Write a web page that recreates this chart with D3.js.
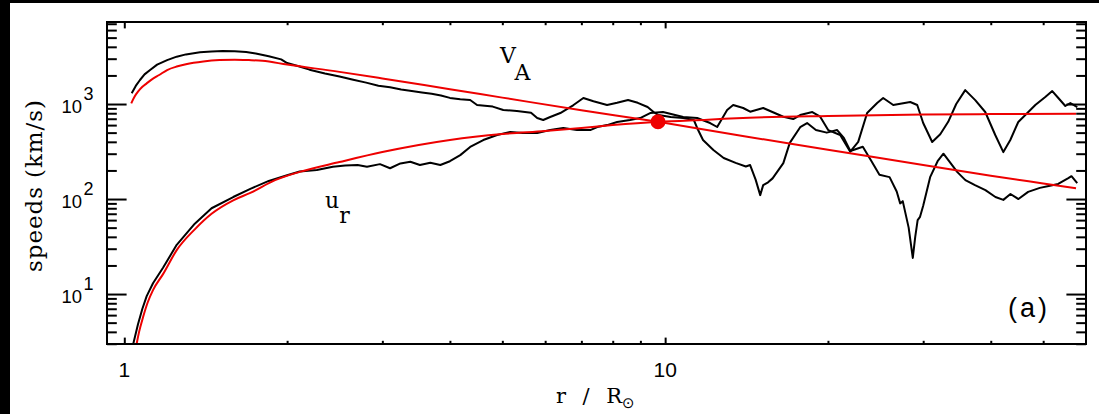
<!DOCTYPE html>
<html><head><meta charset="utf-8">
<script src="https://cdn.jsdelivr.net/npm/d3@7"></script>
<style>body{margin:0;background:#fff}svg{display:block}</style>
</head><body><svg id="c" width="1099" height="414"></svg>
<script>
// ---- axis ticks / labels ----
const xDomain = [0.929, 60];
const yDomain = [2.98, 7300];
const xMajorTicks = [1, 10];
const xMajorLabels = ["1", "10"];
const xMinorTicks = [2,3,4,5,6,7,8,9,20,30,40,50];
const yMajorTicks = [10, 100, 1000];
const yMajorExponents = ["1", "2", "3"];
const yMinorTicks = [3,4,5,6,7,8,9,20,30,40,50,60,70,80,90,200,300,400,500,600,700,800,900,2000,3000,4000,5000,6000,7000];

// ---- series: [r / Rsun, speed km/s] ----
const vaModel = [[1.03,1017],[1.045,1200],[1.06,1350],[1.08,1520],[1.1,1650],[1.13,1850],[1.16,2020],[1.2,2280],[1.25,2480],[1.3,2620],[1.4,2800],[1.5,2900],[1.6,2930],[1.7,2900],[1.8,2850],[2,2600],[2.5,2180],[3,1860],[4,1430],[5,1168],[7,860],[9.7,650],[14,458],[20,331],[30,228],[40,176],[50,146],[57.5,130]];
const urModel = [[1.045,2.3],[1.054,3],[1.065,4],[1.083,5.7],[1.105,8.2],[1.13,11],[1.18,16.3],[1.25,29],[1.35,48],[1.45,70],[1.59,97],[1.71,116],[1.9,158],[2.11,193],[2.5,245],[3,312],[4,418],[5,483],[6,520],[7,560],[8,600],[9.7,650],[12,685],[14.3,718],[20,750],[30,775],[40,783],[57.5,788]];
const urSim = [[1.039,3],[1.06,4.8],[1.08,7],[1.1,9.5],[1.13,13],[1.18,19],[1.25,33],[1.35,55],[1.45,80],[1.59,105],[1.71,128],[1.85,155],[2.0,178],[2.11,195],[2.27,202],[2.43,219],[2.56,225],[2.7,228],[2.81,219],[2.97,233],[3.1,211],[3.24,237],[3.38,247],[3.52,228],[3.68,241],[3.84,228],[4.0,250],[4.18,290],[4.36,353],[4.61,418],[4.89,472],[5.17,507],[5.46,495],[5.8,495],[6.13,532],[6.48,559],[6.87,532],[7.27,532],[7.49,572],[7.81,600],[8.15,646],[8.61,678],[8.99,712],[9.38,804],[9.91,823],[10.8,730],[11.46,712],[12.11,631],[12.48,573],[13.02,865],[13.36,976],[13.94,908],[14.36,830],[15.18,908],[16.54,735],[17.25,695],[17.77,766],[18.71,823],[19.35,735],[20.02,532],[21.07,472],[21.99,315],[22.75,400],[23.63,804],[24.66,1025],[25.3,1157],[26.41,976],[27.55,1020],[28.39,1050],[29.25,976],[30.0,631],[31.17,398],[32.26,480],[33.37,650],[34.53,1000],[35.88,1400],[37.44,1100],[39.07,824],[40.77,472],[42.2,312],[43.47,418],[44.97,647],[46.34,766],[48.35,976],[50.45,1185],[51.97,1370],[53.33,1157],[54.95,953],[56.13,1025],[57.8,930]];
const vaSim = [[1.032,1300],[1.05,1550],[1.069,1790],[1.09,2050],[1.116,2281],[1.15,2600],[1.2,2900],[1.25,3150],[1.3,3330],[1.38,3500],[1.45,3580],[1.52,3620],[1.6,3600],[1.68,3520],[1.75,3400],[1.85,3180],[1.95,2950],[2.0,2700],[2.1,2500],[2.2,2300],[2.35,2100],[2.5,1950],[2.65,1800],[2.8,1680],[2.95,1560],[3.1,1500],[3.25,1420],[3.4,1370],[3.55,1320],[3.7,1280],[3.85,1230],[4.0,1160],[4.18,1120],[4.36,1102],[4.49,976],[4.64,960],[4.8,940],[5.02,865],[5.32,845],[5.65,810],[5.8,712],[5.95,679],[6.13,730],[6.4,804],[6.77,976],[7.06,1157],[7.37,1070],[7.81,976],[8.15,1030],[8.54,1102],[8.9,1030],[9.28,930],[9.52,824],[9.72,766],[10.24,730],[10.8,712],[11.3,679],[11.46,560],[11.75,418],[12.28,328],[12.83,270],[13.5,240],[14.1,220],[14.36,228],[14.7,160],[14.99,110],[15.18,140],[15.5,150],[15.8,165],[16.54,239],[17.0,390],[17.77,570],[18.3,630],[19.0,532],[19.9,500],[20.8,532],[21.4,440],[22.0,320],[23.2,355],[24.0,257],[24.9,180],[26.0,170],[26.8,120],[27.2,90],[27.5,95],[28.2,50],[28.7,24],[29.0,40],[29.3,60],[29.6,65],[30.0,85],[30.9,170],[31.9,250],[32.7,300],[34.7,192],[35.9,158],[37.4,140],[39.1,124],[40.8,105],[42.2,98],[43.5,113],[45.0,100],[46.9,119],[49.3,131],[51.2,137],[53.3,144],[55.65,166],[56.4,174],[57.8,147]];
const criticalPoint = [[9.7, 650]];

// ---- layout ----
const W = 1099, H = 414;
const plot = {left: 107, right: 1086, top: 22, bottom: 344};
const RED = "#ee0000";
const svg = d3.select("#c");
svg.append("rect").attr("width", W).attr("height", H).attr("fill", "#fff");
svg.append("rect").attr("x", 0).attr("y", 0).attr("width", 10).attr("height", H).attr("fill", "#000");
svg.append("rect").attr("x", 0).attr("y", 0).attr("width", W).attr("height", 3).attr("fill", "#000");

const x = d3.scaleLog().domain(xDomain).range([plot.left, plot.right]);
const y = d3.scaleLog().domain(yDomain).range([plot.bottom, plot.top]);

svg.append("clipPath").attr("id", "clip").append("rect")
  .attr("x", plot.left).attr("y", plot.top)
  .attr("width", plot.right - plot.left).attr("height", plot.bottom - plot.top);

const line = d3.line().x(d => x(d[0])).y(d => y(d[1]));
const smooth = d3.line().x(d => x(d[0])).y(d => y(d[1])).curve(d3.curveMonotoneX);
const gData = svg.append("g").attr("clip-path", "url(#clip)");
[vaSim, urSim].forEach(s => gData.append("path").datum(s).attr("d", line)
  .attr("fill", "none").attr("stroke", "#000").attr("stroke-width", 2).attr("stroke-linejoin", "round"));
[vaModel, urModel].forEach(s => gData.append("path").datum(s).attr("d", smooth)
  .attr("fill", "none").attr("stroke", RED).attr("stroke-width", 2));
gData.selectAll("circle.cp").data(criticalPoint).join("circle").attr("class", "cp")
  .attr("cx", d => x(d[0])).attr("cy", d => y(d[1])).attr("r", 7.5).attr("fill", RED);

// ---- axes (ticks inward) ----
function styleAxis(g) {
  g.select(".domain").remove();
  g.selectAll(".tick line").attr("stroke", "#000").attr("stroke-width", 2);
  g.selectAll(".tick text").remove();
}
const xMaj = 6.4, xMin = 3.2, yMaj = 19.6, yMin = 9.8;
svg.append("g").attr("transform", `translate(0,${plot.bottom})`)
  .call(d3.axisBottom(x).tickValues(xMajorTicks).tickSize(-xMaj)).call(styleAxis);
svg.append("g").attr("transform", `translate(0,${plot.bottom})`)
  .call(d3.axisBottom(x).tickValues(xMinorTicks).tickSize(-xMin)).call(styleAxis);
svg.append("g").attr("transform", `translate(0,${plot.top})`)
  .call(d3.axisTop(x).tickValues(xMajorTicks).tickSize(-xMaj)).call(styleAxis);
svg.append("g").attr("transform", `translate(0,${plot.top})`)
  .call(d3.axisTop(x).tickValues(xMinorTicks).tickSize(-xMin)).call(styleAxis);
svg.append("g").attr("transform", `translate(${plot.left},0)`)
  .call(d3.axisLeft(y).tickValues(yMajorTicks).tickSize(-yMaj)).call(styleAxis);
svg.append("g").attr("transform", `translate(${plot.left},0)`)
  .call(d3.axisLeft(y).tickValues(yMinorTicks).tickSize(-yMin)).call(styleAxis);
svg.append("g").attr("transform", `translate(${plot.right},0)`)
  .call(d3.axisRight(y).tickValues(yMajorTicks).tickSize(-yMaj)).call(styleAxis);
svg.append("g").attr("transform", `translate(${plot.right},0)`)
  .call(d3.axisRight(y).tickValues(yMinorTicks).tickSize(-yMin)).call(styleAxis);

svg.append("rect").attr("x", plot.left).attr("y", plot.top)
  .attr("width", plot.right - plot.left).attr("height", plot.bottom - plot.top)
  .attr("fill", "none").attr("stroke", "#000").attr("stroke-width", 2);

// ---- tick labels ----
const SANS = "'Liberation Sans', Arial, sans-serif";
const SERIF = "'DejaVu Serif', serif";
svg.selectAll("text.xl").data(xMajorTicks).join("text").attr("class", "xl")
  .attr("x", d => x(d)).attr("y", 376.5).attr("text-anchor", "middle")
  .attr("font-family", SANS).attr("font-size", 21).text((d, i) => xMajorLabels[i]);
const yl = svg.selectAll("g.yl").data(yMajorTicks).join("g").attr("class", "yl");
yl.append("text").attr("x", 82).attr("y", d => y(d) + 8.8).attr("text-anchor", "end")
  .attr("font-family", SANS).attr("font-size", 18.5).text("10");
yl.append("text").attr("x", 83.5).attr("y", d => y(d) - 3.8).attr("text-anchor", "start")
  .attr("font-family", SANS).attr("font-size", 18).text((d, i) => yMajorExponents[i]);

// ---- titles ----
svg.append("text").attr("transform", "translate(42,186) rotate(-90)")
  .attr("text-anchor", "middle").attr("font-family", SERIF).attr("font-size", 23)
  .attr("textLength", 172).attr("lengthAdjust", "spacing").text("speeds (km/s)");
svg.append("text").attr("x", 556).attr("y", 403)
  .attr("font-family", SERIF).attr("font-size", 21)
  .attr("textLength", 66).attr("lengthAdjust", "spacing").text("r / R");
svg.append("text").attr("x", 622).attr("y", 408)
  .attr("font-family", "'DejaVu Sans', sans-serif").attr("font-size", 15).text("\u2299");

const va = svg.append("text").attr("x", 500).attr("y", 63).attr("font-family", SERIF).attr("font-size", 22);
va.append("tspan").text("V");
va.append("tspan").attr("dy", 17).text("A");
const ur = svg.append("text").attr("x", 325).attr("y", 208).attr("font-family", SERIF).attr("font-size", 22);
ur.append("tspan").text("u");
ur.append("tspan").attr("dy", 15).text("r");

svg.append("text").attr("x", 1008).attr("y", 317).attr("font-family", SANS).attr("font-size", 27)
  .attr("textLength", 39).attr("lengthAdjust", "spacing").text("(a)");
</script></body></html>
